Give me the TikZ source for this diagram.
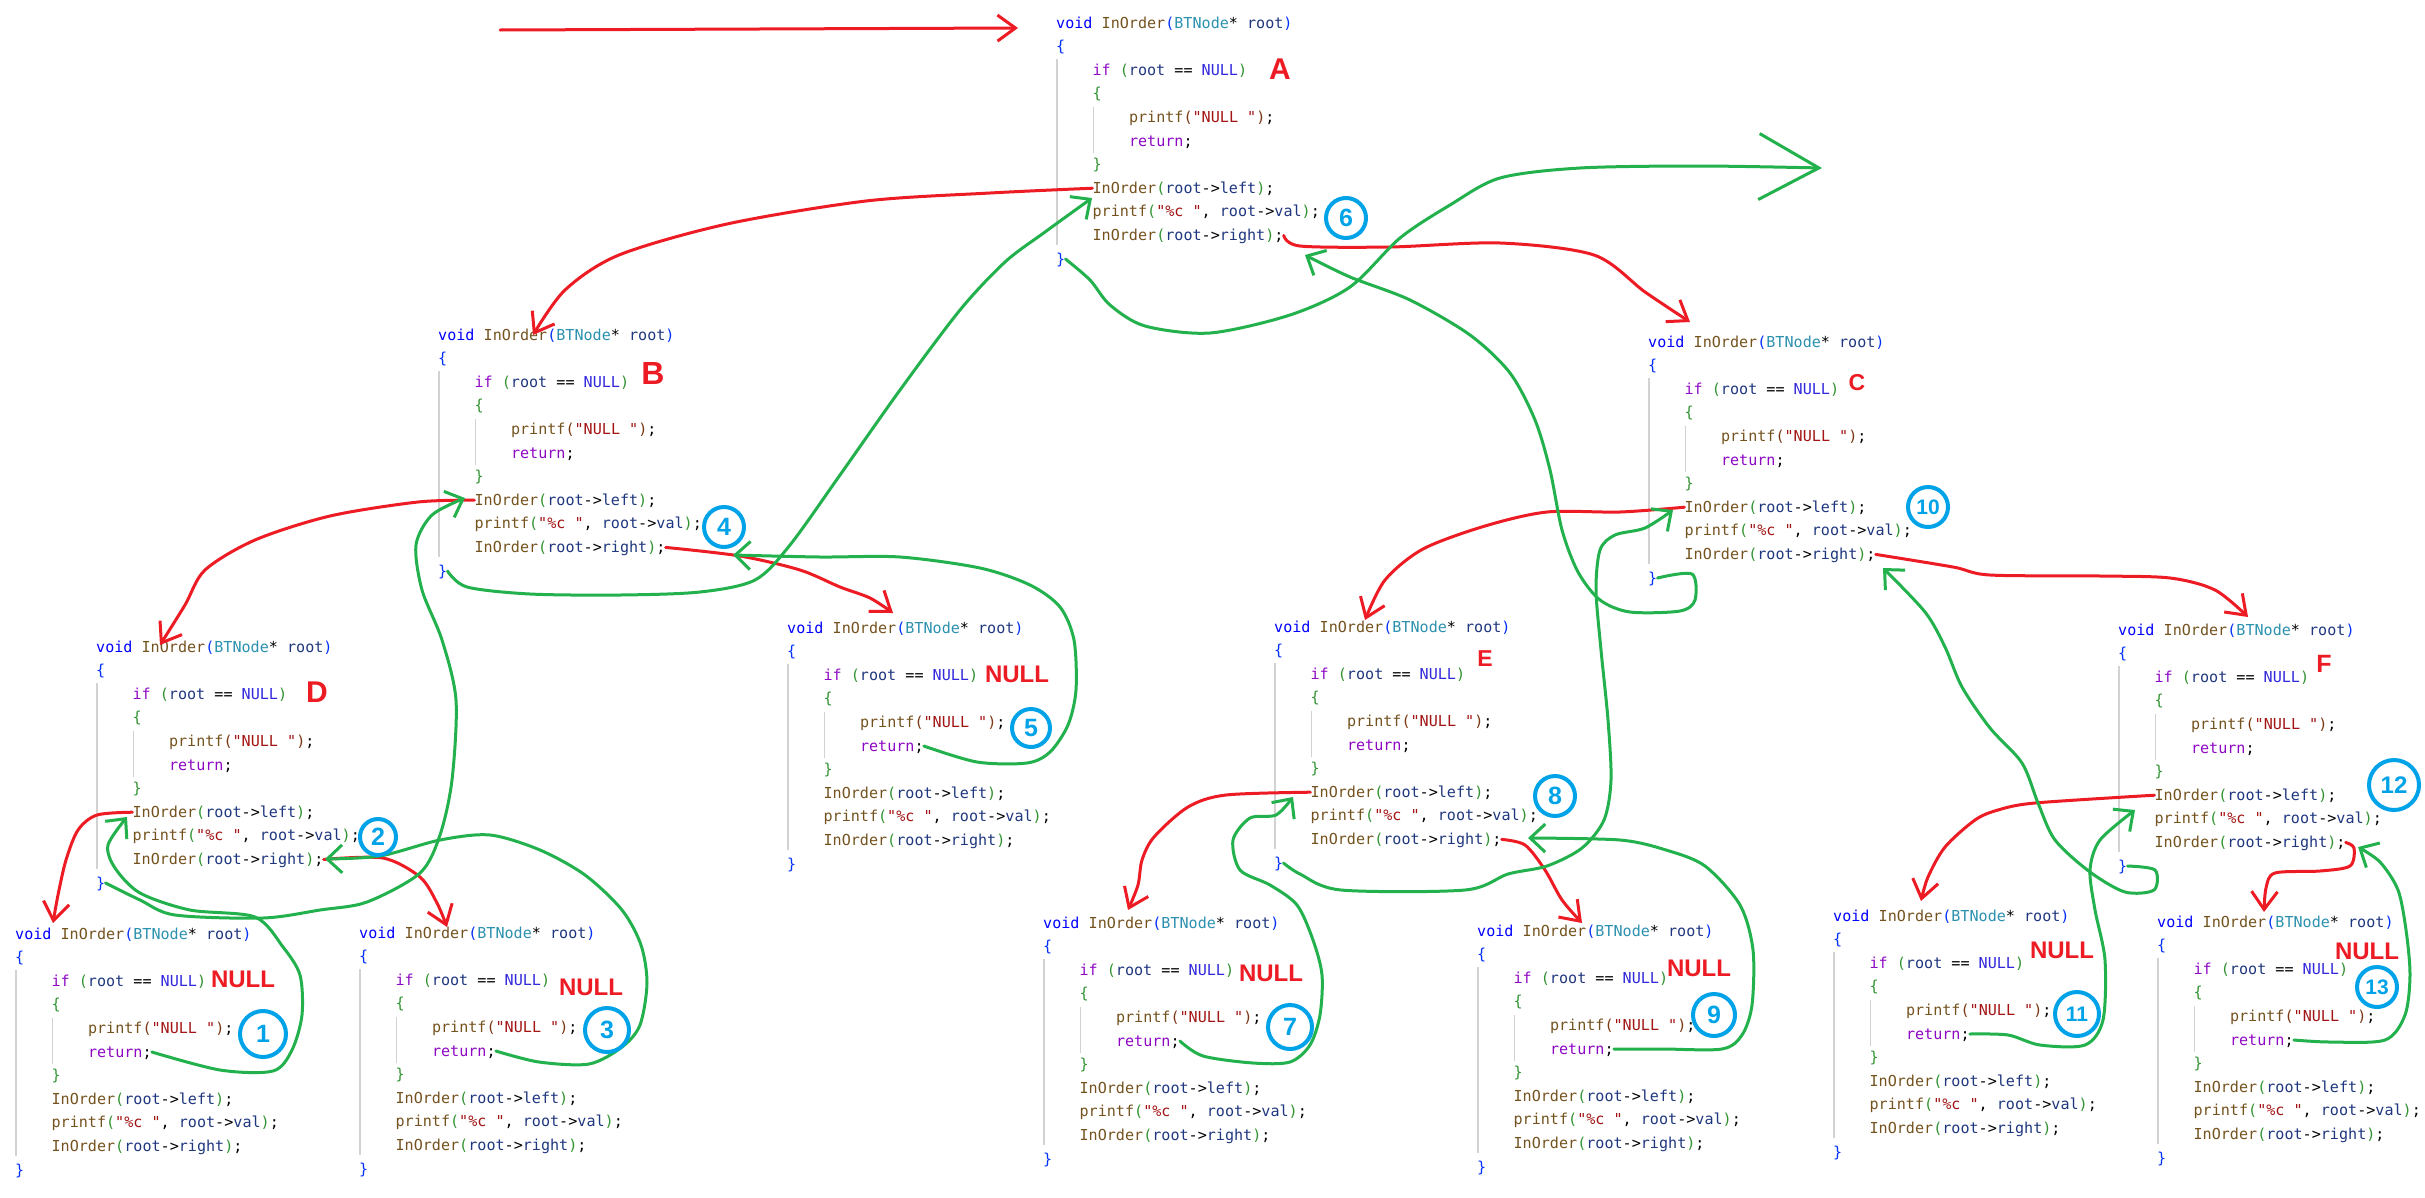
\documentclass[tikz,border=0pt]{standalone}
\usepackage{fontspec}
\usetikzlibrary{arrows.meta}
\newfontfamily\codefont{DejaVu Sans Mono}
\newfontfamily\markfont{Liberation Sans}

\definecolor{kwblue}{RGB}{0,0,255}
\definecolor{fnbrown}{RGB}{116,83,31}
\definecolor{tyteal}{RGB}{43,145,175}
\definecolor{prnavy}{RGB}{31,55,127}
\definecolor{ctlpurple}{RGB}{143,8,196}
\definecolor{macblue}{RGB}{50,40,220}
\definecolor{strred}{RGB}{163,21,21}
\definecolor{brone}{RGB}{4,49,250}
\definecolor{brtwo}{RGB}{49,147,49}
\definecolor{brthree}{RGB}{123,56,20}
\definecolor{guidegray}{RGB}{210,210,210}
\definecolor{penred}{RGB}{237,28,36}
\definecolor{pengreen}{RGB}{34,177,76}
\definecolor{ringblue}{RGB}{0,162,232}

% one InOrder frame: name, x, y of the header line
\newcommand{\codeblk}[3]{%
  \node[codeln] (#1-0) at (#2,#3) {\textcolor{kwblue}{void} \textcolor{fnbrown}{InOrder}\textcolor{brone}{(}\textcolor{tyteal}{BTNode}* \textcolor{prnavy}{root}\textcolor{brone}{)}};
  \node[codeln] (#1-1) at (#2,#3+23.6) {\textcolor{brone}{\{}};
  \node[codeln] (#1-2) at (#2+36.4,#3+47.2) {\textcolor{ctlpurple}{if} \textcolor{brtwo}{(}\textcolor{prnavy}{root} == \textcolor{macblue}{NULL}\textcolor{brtwo}{)}};
  \node[codeln] (#1-3) at (#2+36.4,#3+70.8) {\textcolor{brtwo}{\{}};
  \node[codeln] (#1-4) at (#2+72.8,#3+94.4) {\textcolor{fnbrown}{printf}\textcolor{brthree}{(}\textcolor{strred}{"NULL "}\textcolor{brthree}{)};};
  \node[codeln] (#1-5) at (#2+72.8,#3+118) {\textcolor{ctlpurple}{return};};
  \node[codeln] (#1-6) at (#2+36.4,#3+141.6) {\textcolor{brtwo}{\}}};
  \node[codeln] (#1-7) at (#2+36.4,#3+165.2) {\textcolor{fnbrown}{InOrder}\textcolor{brtwo}{(}\textcolor{prnavy}{root}->\textcolor{prnavy}{left}\textcolor{brtwo}{)};};
  \node[codeln] (#1-8) at (#2+36.4,#3+188.8) {\textcolor{fnbrown}{printf}\textcolor{brtwo}{(}\textcolor{strred}{"\%c "}, \textcolor{prnavy}{root}->\textcolor{prnavy}{val}\textcolor{brtwo}{)};};
  \node[codeln] (#1-9) at (#2+36.4,#3+212.4) {\textcolor{fnbrown}{InOrder}\textcolor{brtwo}{(}\textcolor{prnavy}{root}->\textcolor{prnavy}{right}\textcolor{brtwo}{)};};
  \node[codeln] (#1-10) at (#2,#3+236) {\textcolor{brone}{\}}};
  \draw[guide] (#2+1,#3+36) -- (#2+1,#3+222);
  \draw[guide] (#2+37.4,#3+84) -- (#2+37.4,#3+130);
}

\begin{document}
\begin{tikzpicture}[x=1pt,y=-1pt]

	\tikzstyle{codeln}=[anchor=west, inner sep=0pt, text height=10pt, text depth=0pt, font=\codefont\fontsize{15.1}{18}\selectfont]
	\tikzstyle{guide}=[draw=guidegray, line width=1.5pt]
	\tikzstyle{redpen}=[draw=penred, line width=3pt, line cap=round, line join=round, -{Straight Barb[length=18pt,width=26pt]}]
	\tikzstyle{greenpen}=[draw=pengreen, line width=3pt, line cap=round, line join=round, -{Straight Barb[length=15pt,width=28pt]}]
	\tikzstyle{letter}=[text=penred, inner sep=0pt, font=\markfont\bfseries\fontsize{30}{30}\selectfont]
	\tikzstyle{nullmark}=[text=penred, inner sep=0pt, font=\markfont\bfseries\fontsize{24}{24}\selectfont]
	\tikzstyle{stepnum}=[circle, draw=ringblue, line width=4pt, text=ringblue, inner sep=0pt, font=\markfont\bfseries\fontsize{25}{25}\selectfont]

	\fill[white] (0,0) rectangle (2425,1197);
	\useasboundingbox (0,0) rectangle (2425,1197);

	% the call frames
	\codeblk{A}{1056}{23}
	\codeblk{B}{438}{335}
	\codeblk{C}{1648}{342}
	\codeblk{D}{96}{647}
	\codeblk{E}{1274}{627}
	\codeblk{F}{2118}{630}
	\codeblk{N1}{15}{934}
	\codeblk{N3}{359}{933}
	\codeblk{N5}{787}{628}
	\codeblk{N7}{1043}{923}
	\codeblk{N9}{1477}{931}
	\codeblk{N11}{1833}{916}
	\codeblk{N13}{2157}{922}

	% calls
	\coordinate (entry) at (500,30);
	\draw[redpen] (entry) -- ([xshift=-38pt,yshift=-5pt]A-0.west);
	\draw[redpen] plot[smooth] coordinates {(A-7.west) (990,193) (866,201) (727,224) (619,255) (565,290) (533,335)};
	\draw[redpen] plot[smooth] coordinates {(A-9.east) (1300,246) (1390,247) (1500,243) (1594,255) (1645,292) (1690,322)};
	\draw[redpen] plot[smooth] coordinates {(B-7.west) (418,502) (330,516) (255,540) (205,570) (185,605) (160,645)};
	\draw[redpen] plot[smooth] coordinates {(B-9.east) (740,556) (800,570) (840,587) (870,598) (893,613)};
	\draw[redpen] plot[smooth] coordinates {(D-7.west) (97,815) (78,830) (66,860) (58,895) (53,923)};
	\draw[redpen] plot[smooth] coordinates {(D-9.east) (383,858) (420,877) (437,903) (447,927)};
	\draw[redpen] plot[smooth] coordinates {(E-7.west) (1226,795) (1188,807) (1154,837) (1142,860) (1138,885) (1128,910)};
	\draw[redpen] plot[smooth] coordinates {(E-9.east) (1525,845) (1545,870) (1562,900) (1582,923)};
	\draw[redpen] plot[smooth] coordinates {(C-7.west) (1620,512) (1547,512) (1485,526) (1423,549) (1385,580) (1365,620)};
	\draw[redpen] plot[smooth] coordinates {(C-9.east) (1953,567) (1990,575) (2100,576) (2170,578) (2215,590) (2248,617)};
	\draw[redpen] plot[smooth] coordinates {(F-7.west) (2035,803) (1998,810) (1975,820) (1945,847) (1928,877) (1921,901)};
	\draw[redpen] plot[smooth] coordinates {(F-9.east) (2354,848) (2350,866) (2320,871) (2275,873) (2266,888) (2264,912)};

	% returns
	\draw[greenpen] plot[smooth] coordinates {(N1-5.east) (220,1070) (273,1071) (292,1050) (302,1015) (300,975) (283,947) (255,917) (190,910) (140,893) (115,868) (108,845) (127,817)};
	\draw[greenpen] plot[smooth] coordinates {(N3-5.east) (539,1062) (589,1064) (622,1047) (640,1025) (647,983) (641,945) (622,910) (585,875) (540,850) (490,835) (440,840) (380,856) (325,859)};
	\draw[greenpen] plot[smooth] coordinates {(D-10.east) (140,900) (175,915) (263,918) (320,910) (367,902) (420,873) (440,835) (452,780) (456,700) (442,640) (422,590) (416,545) (432,515) (465,498)};
	\draw[greenpen] plot[smooth] coordinates {(N5-5.east) (977,762) (1027,763) (1050,752) (1068,725) (1076,690) (1074,640) (1060,607) (1030,585) (980,568) (900,557) (820,557) (733,555)};
	\draw[greenpen] plot[smooth] coordinates {(B-10.east) (467,587) (530,594) (620,595) (700,592) (755,580) (790,545) (840,475) (900,390) (960,310) (1005,262) (1045,232) (1092,198)};
	\draw[greenpen] plot[smooth] coordinates {(N7-5.east) (1203,1056) (1253,1063) (1290,1062) (1310,1045) (1320,1015) (1322,975) (1313,940) (1297,905) (1270,885) (1240,870) (1233,840) (1250,818) (1276,815) (1293,797)};
	\draw[greenpen] plot[smooth] coordinates {(N9-5.east) (1663,1049) (1722,1049) (1742,1035) (1752,1005) (1753,950) (1740,905) (1705,866) (1666,850) (1620,840) (1528,838)};
	\draw[greenpen] plot[smooth] coordinates {(E-10.east) (1300,874) (1341,890) (1465,890) (1508,874) (1547,866) (1582,848) (1604,820) (1611,780) (1608,720) (1601,650) (1596,590) (1600,550) (1615,535) (1645,528) (1673,510)};
	\draw[greenpen] plot[smooth] coordinates {(N11-5.east) (2008,1035) (2040,1045) (2085,1045) (2103,1020) (2105,960) (2095,910) (2090,870) (2100,840) (2135,810)};
	\draw[greenpen] plot[smooth] coordinates {(N13-5.east) (2330,1042) (2385,1040) (2405,1015) (2410,975) (2406,930) (2398,890) (2380,862) (2358,847)};
	\draw[greenpen] plot[smooth] coordinates {(F-10.east) (2155,870) (2154,890) (2125,892) (2090,872) (2055,840) (2038,803) (2022,763) (1990,728) (1962,687) (1945,647) (1925,612) (1883,568)};
	\draw[greenpen] plot[smooth] coordinates {(C-10.east) (1692,574) (1695,600) (1680,611) (1630,612) (1600,600) (1578,572) (1562,530) (1550,470) (1535,420) (1510,373) (1470,335) (1410,300) (1350,277) (1305,255)};
	\draw[greenpen, -{Straight Barb[length=60pt,width=66pt]}] plot[smooth] coordinates {(A-10.east) (1090,280) (1110,305) (1145,326) (1210,333) (1290,315) (1350,287) (1400,238) (1450,205) (1500,178) (1580,168) (1700,166) (1822,168)};

	% frame letters and NULL marks
	\node[letter] (labA) at (1280,69) {A};
	\node[letter, font=\markfont\bfseries\fontsize{32}{32}\selectfont] (labB) at (653,373) {B};
	\node[letter, font=\markfont\bfseries\fontsize{23}{23}\selectfont] (labC) at (1857,383) {C};
	\node[letter] (labD) at (317,692) {D};
	\node[letter, font=\markfont\bfseries\fontsize{23}{23}\selectfont] (labE) at (1485,659) {E};
	\node[letter, font=\markfont\bfseries\fontsize{25}{25}\selectfont] (labF) at (2324,664) {F};

	\node[nullmark] (null1) at (243,979) {NULL};
	\node[nullmark] (null3) at (591,987) {NULL};
	\node[nullmark] (null5) at (1017,674) {NULL};
	\node[nullmark] (null7) at (1271,973) {NULL};
	\node[nullmark] (null9) at (1699,968) {NULL};
	\node[nullmark] (null11) at (2062,950) {NULL};
	\node[nullmark] (null13) at (2367,951) {NULL};

	% visiting order
	\node[stepnum, minimum size=46pt] (c1) at (263,1034) {1};
	\node[stepnum, minimum size=36pt] (c2) at (378,837) {2};
	\node[stepnum, minimum size=44pt] (c3) at (607,1030) {3};
	\node[stepnum, minimum size=40pt] (c4) at (724,527) {4};
	\node[stepnum, minimum size=38pt] (c5) at (1031,728) {5};
	\node[stepnum, minimum size=40pt] (c6) at (1346,218) {6};
	\node[stepnum, minimum size=44pt] (c7) at (1290,1027) {7};
	\node[stepnum, minimum size=40pt] (c8) at (1555,796) {8};
	\node[stepnum, minimum size=42pt] (c9) at (1714,1015) {9};
	\node[stepnum, minimum size=40pt, font=\markfont\bfseries\fontsize{21}{21}\selectfont] (c10) at (1928,507) {10};
	\node[stepnum, minimum size=44pt, font=\markfont\bfseries\fontsize{21}{21}\selectfont] (c11) at (2077,1014) {11};
	\node[stepnum, minimum size=50pt, font=\markfont\bfseries\fontsize{24}{24}\selectfont] (c12) at (2394,785) {12};
	\node[stepnum, minimum size=40pt, font=\markfont\bfseries\fontsize{21}{21}\selectfont] (c13) at (2377,987) {13};

\end{tikzpicture}
\end{document}
